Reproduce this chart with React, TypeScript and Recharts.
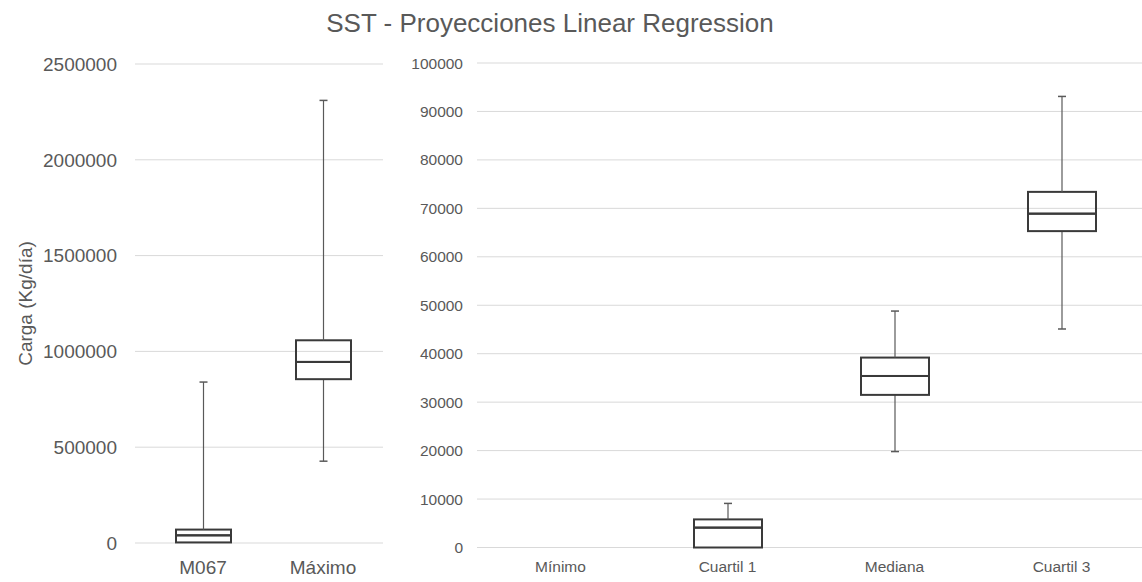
import { ComposedChart, Bar, XAxis, YAxis, CartesianGrid } from 'recharts'

const leftCategories = ['M067', 'Máximo']
const leftMin = [0, 427000]
const leftQ1 = [3000, 855000]
const leftMedian = [40000, 945000]
const leftQ3 = [70000, 1058000]
const leftMax = [840000, 2310000]
const leftTicks = [0, 500000, 1000000, 1500000, 2000000, 2500000]

const rightCategories = ['Mínimo', 'Cuartil 1', 'Mediana', 'Cuartil 3']
const rightMin = [0, 0, 19800, 45100]
const rightQ1 = [0, 0, 31500, 65300]
const rightMedian = [0, 4100, 35400, 68900]
const rightQ3 = [0, 5800, 39200, 73400]
const rightMax = [0, 9100, 48800, 93100]
const rightTicks = [0, 10000, 20000, 30000, 40000, 50000, 60000, 70000, 80000, 90000, 100000]

const FONT = '"Liberation Sans", Arial, sans-serif'
const TEXT = '#595959'
const GRID = '#d9d9d9'

function toRows(cats: string[], min: number[], q1: number[], med: number[], q3: number[], max: number[]) {
  return cats.map((name, i) => ({
    name,
    base: min[i],
    lowWhisker: q1[i] - min[i],
    lowBox: med[i] - q1[i],
    highBox: q3[i] - med[i],
    highWhisker: max[i] - q3[i],
  }))
}

const leftData = toRows(leftCategories, leftMin, leftQ1, leftMedian, leftQ3, leftMax)
const rightData = toRows(rightCategories, rightMin, rightQ1, rightMedian, rightQ3, rightMax)

// lower whisker: stem + cap at the minimum
const WhiskerLow = (p: any) => {
  const { x, y, width, height } = p
  if (!height || height < 1) return <g />
  const cx = x + width / 2
  return (
    <g>
      <line x1={cx} x2={cx} y1={y} y2={y + height} stroke="#595959" strokeWidth={1.2} />
      <line x1={cx - 4} x2={cx + 4} y1={y + height} y2={y + height} stroke="#595959" strokeWidth={1.5} />
    </g>
  )
}

// upper whisker: stem + cap at the maximum
const WhiskerHigh = (p: any) => {
  const { x, y, width, height } = p
  if (!height || height < 1) return <g />
  const cx = x + width / 2
  return (
    <g>
      <line x1={cx} x2={cx} y1={y} y2={y + height} stroke="#595959" strokeWidth={1.2} />
      <line x1={cx - 4} x2={cx + 4} y1={y} y2={y} stroke="#595959" strokeWidth={1.5} />
    </g>
  )
}

const BoxPart = (p: any) => {
  const { x, y, width, height } = p
  if (!height || height <= 0) return <g />
  return <rect x={x} y={y} width={width} height={height} fill="none" stroke="#3a3a3a" strokeWidth={2} />
}

export default function App() {
  return (
    <div
      style={{
        position: 'absolute',
        left: 0,
        top: 0,
        width: 1142,
        height: 582,
        overflow: 'hidden',
        background: '#fff',
        fontFamily: FONT,
      }}
    >
      <div
        style={{
          position: 'absolute',
          top: 10,
          left: 0,
          width: 1100,
          textAlign: 'center',
          fontSize: 26,
          lineHeight: '26px',
          color: TEXT,
        }}
      >
        SST - Proyecciones Linear Regression
      </div>

      <ComposedChart
        width={400}
        height={582}
        data={leftData}
        margin={{ top: 64, right: 17, left: 0, bottom: 0 }}
        style={{ position: 'absolute', left: 0, top: 0 }}
      >
        <CartesianGrid vertical={false} stroke={GRID} />
        <XAxis
          dataKey="name"
          axisLine={false}
          tickLine={false}
          tickSize={0}
          tickMargin={18}
          height={39}
          padding={{ left: 8, right: 0 }}
          tick={{ fill: TEXT, fontSize: 19, fontFamily: FONT }}
        />
        <YAxis
          domain={[0, 2500000]}
          ticks={leftTicks}
          interval={0}
          axisLine={false}
          tickLine={false}
          tickSize={0}
          tickMargin={18}
          width={135}
          tick={{ fill: TEXT, fontSize: 19, fontFamily: FONT }}
          label={{
            value: 'Carga (Kg/día)',
            angle: -90,
            position: 'insideLeft',
            offset: 25,
            style: { textAnchor: 'middle', fill: TEXT, fontSize: 19, fontFamily: FONT },
          }}
        />
        <Bar dataKey="base" stackId="a" fill="none" barSize={55} isAnimationActive={false} />
        <Bar dataKey="lowWhisker" stackId="a" barSize={55} shape={WhiskerLow} isAnimationActive={false} />
        <Bar dataKey="lowBox" stackId="a" barSize={55} shape={BoxPart} isAnimationActive={false} />
        <Bar dataKey="highBox" stackId="a" barSize={55} shape={BoxPart} isAnimationActive={false} />
        <Bar dataKey="highWhisker" stackId="a" barSize={55} shape={WhiskerHigh} isAnimationActive={false} />
      </ComposedChart>

      <ComposedChart
        width={770}
        height={582}
        data={rightData}
        margin={{ top: 63, right: 5, left: 0, bottom: 0 }}
        style={{ position: 'absolute', left: 380, top: 0 }}
      >
        <CartesianGrid vertical={false} stroke={GRID} />
        <XAxis
          dataKey="name"
          axisLine={false}
          tickLine={false}
          tickSize={0}
          tickMargin={13}
          height={34.5}
          tick={{ fill: TEXT, fontSize: 15.5, fontFamily: FONT }}
        />
        <YAxis
          domain={[0, 100000]}
          ticks={rightTicks}
          interval={0}
          axisLine={false}
          tickLine={false}
          tickSize={0}
          tickMargin={14}
          width={97}
          tick={{ fill: TEXT, fontSize: 15.5, fontFamily: FONT }}
        />
        <Bar dataKey="base" stackId="b" fill="none" barSize={68} isAnimationActive={false} />
        <Bar dataKey="lowWhisker" stackId="b" barSize={68} shape={WhiskerLow} isAnimationActive={false} />
        <Bar dataKey="lowBox" stackId="b" barSize={68} shape={BoxPart} isAnimationActive={false} />
        <Bar dataKey="highBox" stackId="b" barSize={68} shape={BoxPart} isAnimationActive={false} />
        <Bar dataKey="highWhisker" stackId="b" barSize={68} shape={WhiskerHigh} isAnimationActive={false} />
      </ComposedChart>
    </div>
  )
}
